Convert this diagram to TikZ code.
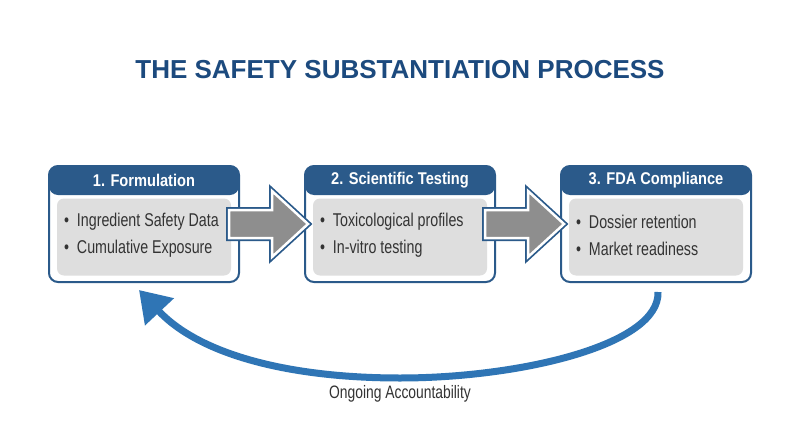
\documentclass[tikz,border=0pt]{standalone}
\usepackage{fontspec}
\setmainfont{Liberation Sans}
\newfontfamily\narrowfont[FakeStretch=0.77]{Liberation Sans}
\newfontfamily\hdrfont[FakeStretch=0.86]{Liberation Sans}
\usetikzlibrary{arrows.meta,calc}
\definecolor{hdrblue}{HTML}{2B5A8A}
\definecolor{titleblue}{HTML}{1C4A7E}
\definecolor{innergrey}{HTML}{DEDEDE}
\definecolor{arrowgrey}{HTML}{8E8E8E}
\definecolor{loopblue}{HTML}{2F75B5}
\definecolor{txtgrey}{HTML}{333333}
\begin{document}
\begin{tikzpicture}[x=1pt,y=-1pt,
  stagebox/.style={draw=hdrblue,line width=2pt,rounded corners=9pt,fill=white,
    minimum width=190pt,minimum height=116pt,inner sep=0pt,
    path picture={\fill[hdrblue] (path picture bounding box.north west) rectangle ([yshift=-29pt]path picture bounding box.north east);}},
  innerbox/.style={fill=innergrey,rounded corners=7pt,minimum width=174pt,minimum height=77pt,inner sep=0pt},
  hdrtext/.style={text=white,font=\hdrfont\bfseries\fontsize{17}{20}\selectfont,inner sep=0pt},
  bullettext/.style={text=txtgrey,font=\narrowfont\fontsize{18.5}{21}\selectfont,anchor=west,inner sep=0pt},
]
\useasboundingbox (0,0) rectangle (800,447);
\fill[white] (0,0) rectangle (800,447);

\node[text=titleblue,font=\bfseries\fontsize{26}{30}\selectfont] (title) at (400,70) {THE SAFETY SUBSTANTIATION PROCESS};

% stage boxes
\node[stagebox] (b1) at (144,224) {};
\node[stagebox] (b2) at (400,224) {};
\node[stagebox] (b3) at (656,224) {};

\node[hdrtext] (h1) at ($(b1.north)+(0,15)$) {1. Formulation};
\node[hdrtext] (h2) at ($(b2.north)+(0,15)$) {2. Scientific Testing};
\node[hdrtext] (h3) at ($(b3.north)+(0,15)$) {3. FDA Compliance};

\node[innerbox] (i1) at ($(b1.center)+(0,13)$) {};
\node[innerbox] (i2) at ($(b2.center)+(0,13)$) {};
\node[innerbox] (i3) at ($(b3.center)+(0,13)$) {};

\node[bullettext] (t1a) at ($(i1.west)+(7,-15)$) {\textbullet\hspace{8pt}Ingredient Safety Data};
\node[bullettext] (t1b) at ($(i1.west)+(7,12)$) {\textbullet\hspace{8pt}Cumulative Exposure};
\node[bullettext] (t2a) at ($(i2.west)+(7,-15)$) {\textbullet\hspace{8pt}Toxicological profiles};
\node[bullettext] (t2b) at ($(i2.west)+(7,12)$) {\textbullet\hspace{8pt}In-vitro testing};
\node[bullettext] (t3a) at ($(i3.west)+(7,-15)$) {\textbullet\hspace{8pt}Dossier retention};
\node[bullettext] (t3b) at ($(i3.west)+(7,12)$) {\textbullet\hspace{8pt}Market readiness};

% block arrows
\foreach \s/\e in {b1/b2,b2/b3}{
  \path ($(\s.east)+(-11,0)$) coordinate (ts) ($(\e.west)+(4,0)$) coordinate (te);
  \draw[line width=6pt,draw=hdrblue,line join=miter]
    ($(ts)+(0,-14)$) -- ($(te)+(-36,-14)$) -- ($(te)+(-36,-33)$) -- (te) --
    ($(te)+(-36,33)$) -- ($(te)+(-36,14)$) -- ($(ts)+(0,14)$) -- cycle;
  \draw[line width=2.5pt,draw=white,fill=arrowgrey,line join=miter]
    ($(ts)+(0,-14)$) -- ($(te)+(-36,-14)$) -- ($(te)+(-36,-33)$) -- (te) --
    ($(te)+(-36,33)$) -- ($(te)+(-36,14)$) -- ($(ts)+(0,14)$) -- cycle;
}

% feedback loop
\coordinate (ls) at ($(b3.south)+(2,9)$);
\coordinate (lm) at (400,378);
\coordinate (le) at (139,290);
\draw[loopblue,line width=7pt,-{Triangle[length=30pt,width=38pt]}]
  (ls) .. controls (660,345) and (520,378) .. (lm)
       .. controls (290,378) and (200,355) .. (le);

\node[text=txtgrey,font=\narrowfont\fontsize{18}{21}\selectfont] (lbl) at (400,394) {Ongoing Accountability};
\end{tikzpicture}
\end{document}
